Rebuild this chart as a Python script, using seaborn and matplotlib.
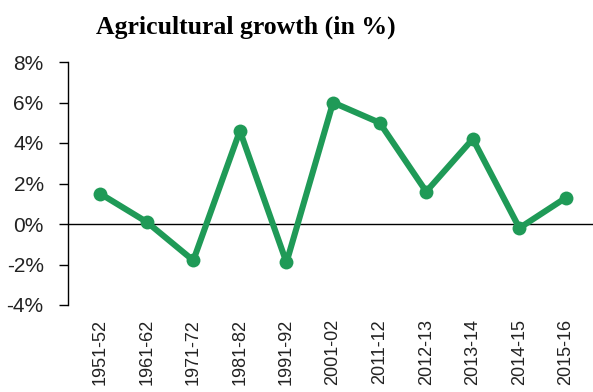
import matplotlib
matplotlib.use("Agg")
import matplotlib.pyplot as plt
import seaborn as sns
import numpy as np

periods = ["1951-52", "1961-62", "1971-72", "1981-82", "1991-92", "2001-02",
           "2011-12", "2012-13", "2013-14", "2014-15", "2015-16"]
growth = [1.5, 0.1, -1.8, 4.6, -1.9, 6.0, 5.0, 1.6, 4.2, -0.2, 1.3]
ytick_vals = [-4, -2, 0, 2, 4, 6, 8]
ytick_labels = ["-4%", "-2%", "0%", "2%", "4%", "6%", "8%"]
title = "Agricultural growth (in %)"

sns.set_style("white")
plt.rcParams['font.family'] = ['Liberation Sans', 'DejaVu Sans']

fig = plt.figure(figsize=(5.93, 3.92), dpi=100)
ax = fig.add_axes([68/593, 87/392, 1 - 68/593, 243/392])

idx = np.arange(len(periods))
sns.lineplot(x=idx, y=growth, ax=ax, color="#1f9a57", linewidth=4.4,
             marker="o", markersize=10, markeredgewidth=0, zorder=3)

ax.axhline(0, color="black", linewidth=1.0, zorder=2)
ax.set_ylim(-4, 8)
ax.set_xlim(-0.69, 10.58)
ax.set_yticks(ytick_vals)
ax.set_yticklabels(ytick_labels)
ax.set_xticks(idx)
ax.set_xticklabels(periods, rotation=90, va="top")
ax.tick_params(axis="y", direction="out", length=6.5, width=1, color="black",
               pad=11, labelsize=15, labelcolor="#222222", left=True)
ax.tick_params(axis="x", length=0, pad=10, labelsize=13, labelcolor="#222222")

for s in ["top", "right", "bottom"]:
    ax.spines[s].set_visible(False)
ax.spines["left"].set_color("black")
ax.spines["left"].set_linewidth(1)
ax.grid(False)

fig.text(246/593, 1 - 27/392, title, ha="center", va="center",
         family="Liberation Serif", fontweight="bold", fontsize=18.5, color="black")

fig.savefig("out.png", dpi=100)
